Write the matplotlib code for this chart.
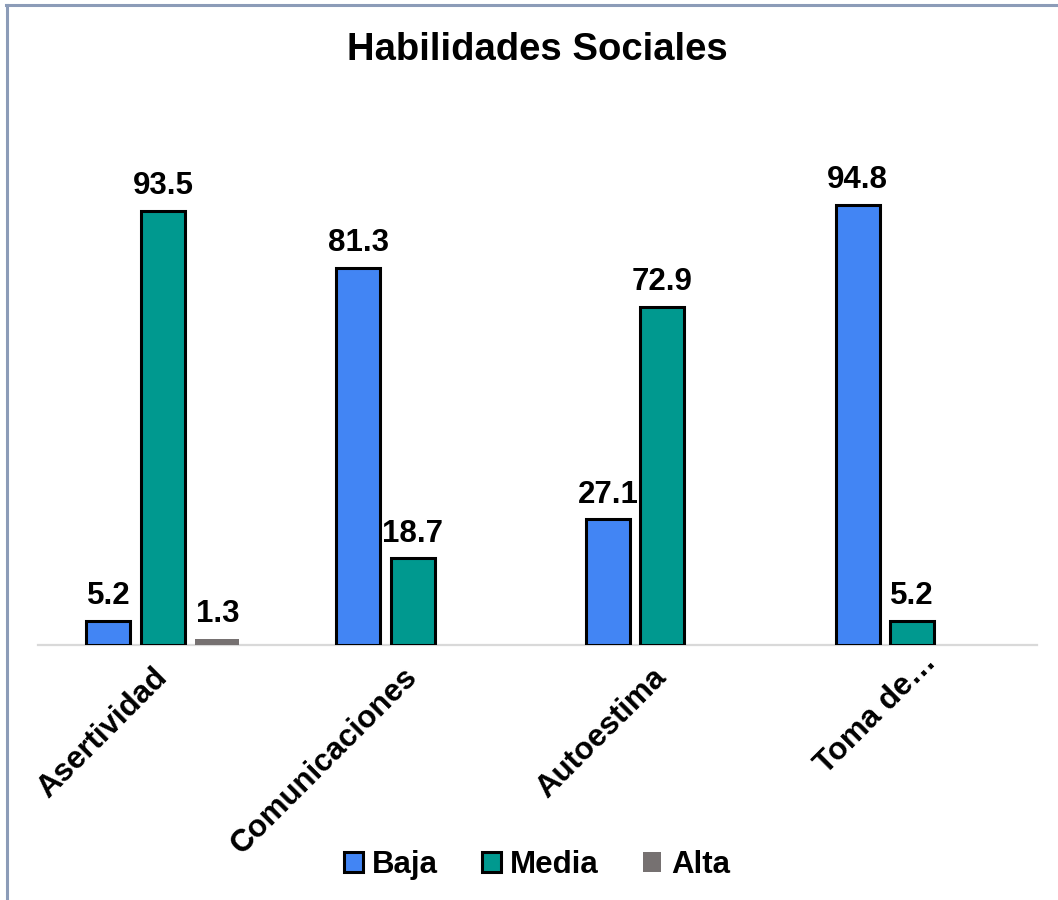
import matplotlib
matplotlib.use("Agg")
import matplotlib.pyplot as plt
from matplotlib.patches import Patch
from matplotlib.lines import Line2D
import matplotlib.transforms as mtransforms
import numpy as np

plt.rcParams['font.family'] = ['Liberation Sans', 'DejaVu Sans']
plt.rcParams['font.weight'] = 'bold'

categories = ["Asertividad", "Comunicaciones", "Autoestima", "Toma de…"]
series_names = ["Baja", "Media", "Alta"]
baja = [5.2, 81.3, 27.1, 94.8]
media = [93.5, 18.7, 72.9, 5.2]
alta = [1.3, None, None, None]

colors = {"Baja": "#4285f4", "Media": "#00998f", "Alta": "#767171"}

W, H = 1058, 900
fig = plt.figure(figsize=(W / 100, H / 100), dpi=100)
ax = fig.add_axes([38 / W, (H - 645) / H, (1037 - 38) / W, (645 - 110) / H])

x = np.arange(len(categories))
bw = 0.176
step = 0.218
offsets = {"Baja": -step, "Media": 0.0, "Alta": step}
data = {"Baja": baja, "Media": media, "Alta": alta}

FS = 22.5

for name in series_names:
    vals = data[name]
    for i, v in enumerate(vals):
        if v is None:
            continue
        xi = x[i] + offsets[name]
        if name == "Alta":
            ax.bar(xi, v, width=bw, color=colors[name], edgecolor="none", zorder=3)
        else:
            ax.bar(xi, v, width=bw, color=colors[name], edgecolor="black",
                   linewidth=2.2, zorder=3)
        ax.annotate(f"{v:.1f}", (xi, v), xytext=(0, 12), textcoords="offset points",
                    ha="center", va="baseline", fontsize=FS, fontweight="bold")

ax.set_xlim(-0.5, len(categories) - 0.5)
ax.set_ylim(0, 115.25)
ax.set_yticks([])
for s in ["top", "right", "left"]:
    ax.spines[s].set_visible(False)
ax.spines["bottom"].set_color("#d9d9d9")
ax.spines["bottom"].set_linewidth(1.6)
ax.spines["bottom"].set_zorder(1)
ax.set_xticks(x)
ax.set_xticklabels(categories, rotation=45, ha="right", va="center",
                   rotation_mode="anchor", fontsize=FS, fontweight="bold")
ax.tick_params(axis="x", length=0, pad=20)

# the truncated last label sits a little further up and to the right
last = ax.get_xticklabels()[-1]
shift = mtransforms.ScaledTranslation(20 / 100, 15 / 100, fig.dpi_scale_trans)
last.set_transform(last.get_transform() + shift)

fig.text(537 / W, 1 - 50 / H, "Habilidades Sociales", ha="center", va="center",
         fontsize=27.5, fontweight="bold")

handles = [
    Patch(facecolor=colors["Baja"], edgecolor="black", linewidth=2.2, label="Baja"),
    Patch(facecolor=colors["Media"], edgecolor="black", linewidth=2.2, label="Media"),
    Patch(facecolor=colors["Alta"], edgecolor="none", label="Alta"),
]
fig.legend(handles=handles, loc="center", bbox_to_anchor=(537 / W, 1 - 865 / H),
           ncol=3, frameon=False, handlelength=0.6, handleheight=0.6,
           handletextpad=0.3, columnspacing=1.4,
           prop={"weight": "bold", "size": FS})

# chart frame: top and left edges
frame_color = "#8c9cb8"
fig.add_artist(Line2D([6 / W, 1], [1 - 5 / H, 1 - 5 / H], transform=fig.transFigure,
                      color=frame_color, linewidth=2.2))
fig.add_artist(Line2D([7 / W, 7 / W], [1 - 5 / H, 0], transform=fig.transFigure,
                      color=frame_color, linewidth=2.2))

fig.savefig("out.png", dpi=100, facecolor="white")
